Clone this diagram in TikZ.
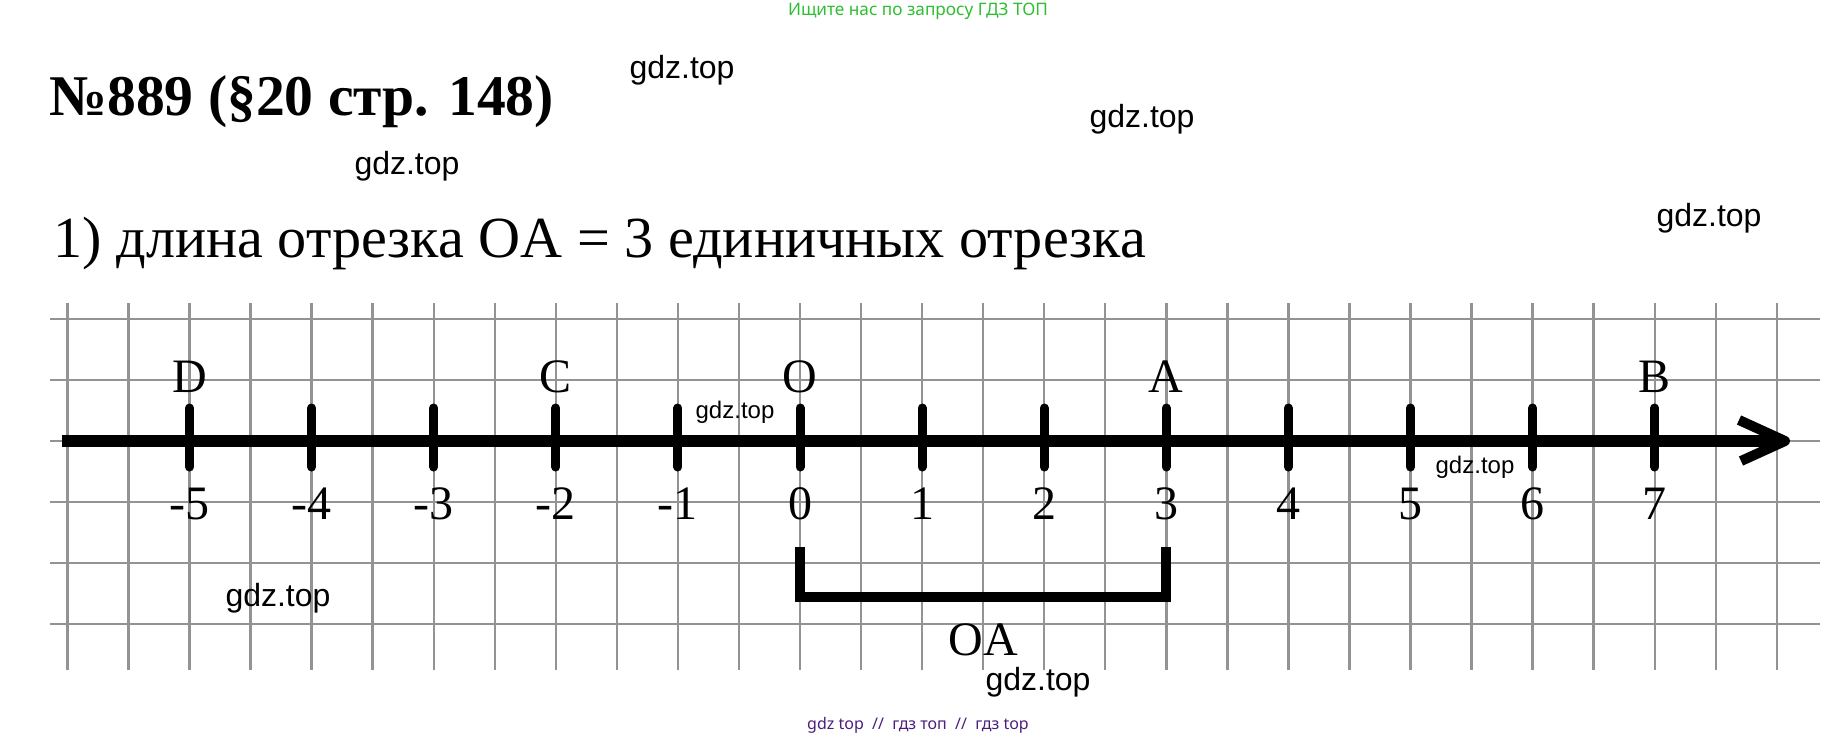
\documentclass[tikz,border=0pt]{standalone}
\usepackage{fontspec}
\setmainfont{Liberation Serif}
\setsansfont{Liberation Sans}
\newfontfamily\notosans{Noto Sans}

\definecolor{searchgreen}{RGB}{46,190,50}
\definecolor{linkpurple}{RGB}{75,30,125}

\begin{document}
\begin{tikzpicture}[x=0.5pt, y=-0.5pt]
        % Define styles
        \tikzstyle{gridline}=[draw=gray!85, line width=1.2pt]
        \tikzstyle{axisline}=[line width=6pt]
        \tikzstyle{tickmark}=[line width=4.5pt, line cap=round]
        \tikzstyle{bracketline}=[line width=5pt, line join=miter]
        \tikzstyle{pointname}=[font=\fontsize{24}{28}\selectfont, inner sep=0pt, anchor=base]
        \tikzstyle{watermark}=[font=\sffamily\fontsize{16}{18}\selectfont, inner sep=0pt]
        \tikzstyle{smallmark}=[font=\sffamily\fontsize{12}{14}\selectfont, inner sep=0pt]

        \useasboundingbox (0,0) rectangle (1838,740);

        % Grid of the squared paper
        \foreach \y in {319,380,441,502,563,624}
            \draw[gridline] (50,\y) -- (1820,\y);
        \foreach \k in {-12,...,16}
            \draw[gridline] (800+61.05*\k,303) -- (800+61.05*\k,670);

        % Number line
        \coordinate (start) at (62,441);
        \coordinate (end) at (1779,441);
        \coordinate (tip) at (1785,441);
        \coordinate (barb-up) at (1739,420);
        \coordinate (barb-down) at (1741,461);
        \draw[axisline] (start) -- (end);
        \draw[bracketline, line join=round] (barb-up) -- (tip) -- (barb-down);

        % Ticks and numbers
        \foreach \n in {-5,...,7} {
            \coordinate (tick\n) at (800+122.1*\n,441);
            \draw[tickmark] (800+122.1*\n,408) -- (800+122.1*\n,467);
            \node[pointname] (num\n) at (800+122.1*\n,519) {\n};
        }

        % Points on the line
        \foreach \n/\p in {-5/D,-2/C,0/O,3/A,7/B}
            \node[pointname] (point-\p) at (800+122.1*\n,392) {\p};

        % Segment OA
        \coordinate (seg-o) at (800,547);
        \coordinate (seg-a) at (1166,547);
        \draw[bracketline] (seg-o) -- (800,597) -- (1166,597) -- (seg-a);
        \node[pointname] (seg-label) at (983,655) {OA};

        % Heading and answer
        \node[anchor=base west, inner sep=0pt, font=\bfseries\fontsize{28.8}{32}\selectfont] (title) at (49,115) {№889 (§20 стр. 148)};
        \node[anchor=base west, inner sep=0pt, font=\fontsize{29.1}{34}\selectfont] (answer) at (53,257) {1) длина отрезка OA = 3 единичных отрезка};

        % Watermarks
        \node[watermark] (wm1) at (682,70) {gdz.top};
        \node[watermark] (wm2) at (1142,119) {gdz.top};
        \node[watermark] (wm3) at (407,166) {gdz.top};
        \node[watermark] (wm4) at (1709,218) {gdz.top};
        \node[smallmark] (wm5) at (735,412) {gdz.top};
        \node[smallmark] (wm6) at (1475,467) {gdz.top};
        \node[watermark] (wm7) at (278,598) {gdz.top};
        \node[watermark] (wm8) at (1038,682) {gdz.top};

        % Top and bottom lines
        \node[font=\notosans\fontsize{8.6}{11}\selectfont, text=searchgreen, inner sep=0pt] (search) at (918,11) {Ищите нас по запросу ГДЗ ТОП};
        \node[font=\notosans\fontsize{8}{10}\selectfont, text=linkpurple, inner sep=0pt] (links) at (918,725) {gdz top \ // \ гдз топ \ // \ гдз top};
    \end{tikzpicture}
\end{document}
